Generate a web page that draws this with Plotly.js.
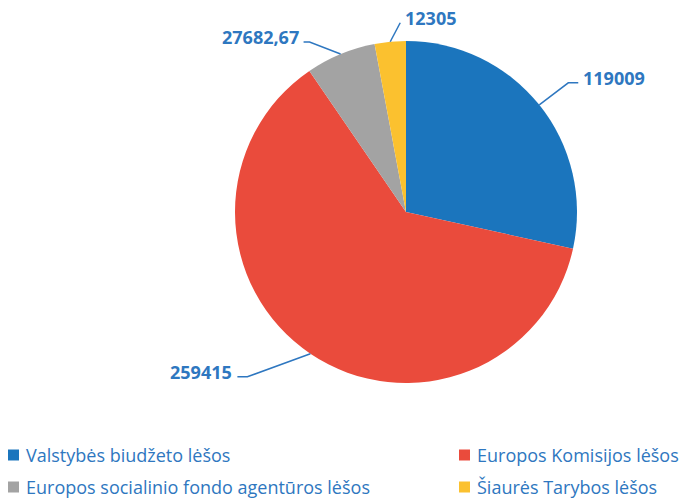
<!DOCTYPE html>
<html>
<head>
<meta charset="utf-8">
<script src="https://cdn.plot.ly/plotly-3.0.1.min.js"></script>
<style>html,body{margin:0;padding:0;background:#fff;}#chart{width:680px;height:499px;}</style>
</head>
<body>
<div id="chart"></div>
<script>
// ---- data ----
const labels = ['Valstybės biudžeto lėšos', 'Europos Komisijos lėšos', 'Europos socialinio fondo agentūros lėšos', 'Šiaurės Tarybos lėšos'];
const values = [119009, 259415, 27682.67, 12305];
const valueText = ['119009', '259415', '27682,67', '12305'];
const colors = ['#1B75BD', '#EA4B3C', '#A3A3A3', '#FBC12F'];

// ---- style / geometry ----
const W = 680, H = 499;
const CX = 406, CY = 212, R = 171;
const labelBlue = '#2E77C0';
const leaders = [
  {elbow: [29, -22], tail: 10, anchor: 'left'},
  {elbow: [-63, 23], tail: -10, anchor: 'right'},
  {elbow: [-31, -12], tail: -6, anchor: 'right'},
  {elbow: [10, -19], tail: 0, anchor: 'left'}
];
const legendPos = [
  {x: 8, y: 455}, {x: 459, y: 455}, {x: 8, y: 487}, {x: 459, y: 487}
];

const px = x => x / W;
const py = y => 1 - y / H;

const total = values.reduce((a, b) => a + b, 0);
const shapes = [];
const annotations = [];
let cum = 0;
values.forEach((v, i) => {
  const mid = (cum + v / 2) / total * 2 * Math.PI;
  cum += v;
  const ex = CX + R * Math.sin(mid), ey = CY - R * Math.cos(mid);
  const L = leaders[i];
  const bx = ex + L.elbow[0], by = ey + L.elbow[1];
  const tx = bx + L.tail, ty = by;
  shapes.push({
    type: 'path', xref: 'paper', yref: 'paper',
    path: `M${px(ex)},${py(ey)} L${px(bx)},${py(by)} L${px(tx)},${py(ty)}`,
    line: {color: labelBlue, width: 1.5}
  });
  annotations.push({
    xref: 'paper', yref: 'paper', showarrow: false,
    x: px(tx + (L.anchor === 'left' ? 3 : -3)), y: py(ty - 5),
    xanchor: L.anchor, yanchor: 'middle',
    text: '<b>' + valueText[i] + '</b>',
    font: {family: 'Open Sans', size: 18, color: labelBlue}
  });
});

// manual legend
labels.forEach((lab, i) => {
  const p = legendPos[i];
  shapes.push({
    type: 'rect', xref: 'paper', yref: 'paper',
    x0: px(p.x), x1: px(p.x + 11), y0: py(p.y - 5.5), y1: py(p.y + 5.5),
    fillcolor: colors[i], line: {width: 0}
  });
  annotations.push({
    xref: 'paper', yref: 'paper', showarrow: false,
    x: px(p.x + 16), y: py(p.y), xanchor: 'left', yanchor: 'middle',
    text: lab, font: {family: 'Open Sans', size: 18, color: '#2E77C0'}
  });
});

const trace = {
  type: 'pie',
  labels: labels,
  values: values,
  sort: false,
  direction: 'clockwise',
  rotation: 0,
  textinfo: 'none',
  hoverinfo: 'label+value',
  marker: {colors: colors, line: {width: 0}},
  domain: {x: [px(CX - R), px(CX + R)], y: [py(CY + R), py(CY - R)]},
  showlegend: false
};

const layout = {
  width: W, height: H,
  margin: {l: 0, r: 0, t: 0, b: 0},
  paper_bgcolor: '#ffffff',
  showlegend: false,
  shapes: shapes,
  annotations: annotations
};

Plotly.newPlot('chart', [trace], layout, {displayModeBar: false, staticPlot: true});
</script>
</body>
</html>
